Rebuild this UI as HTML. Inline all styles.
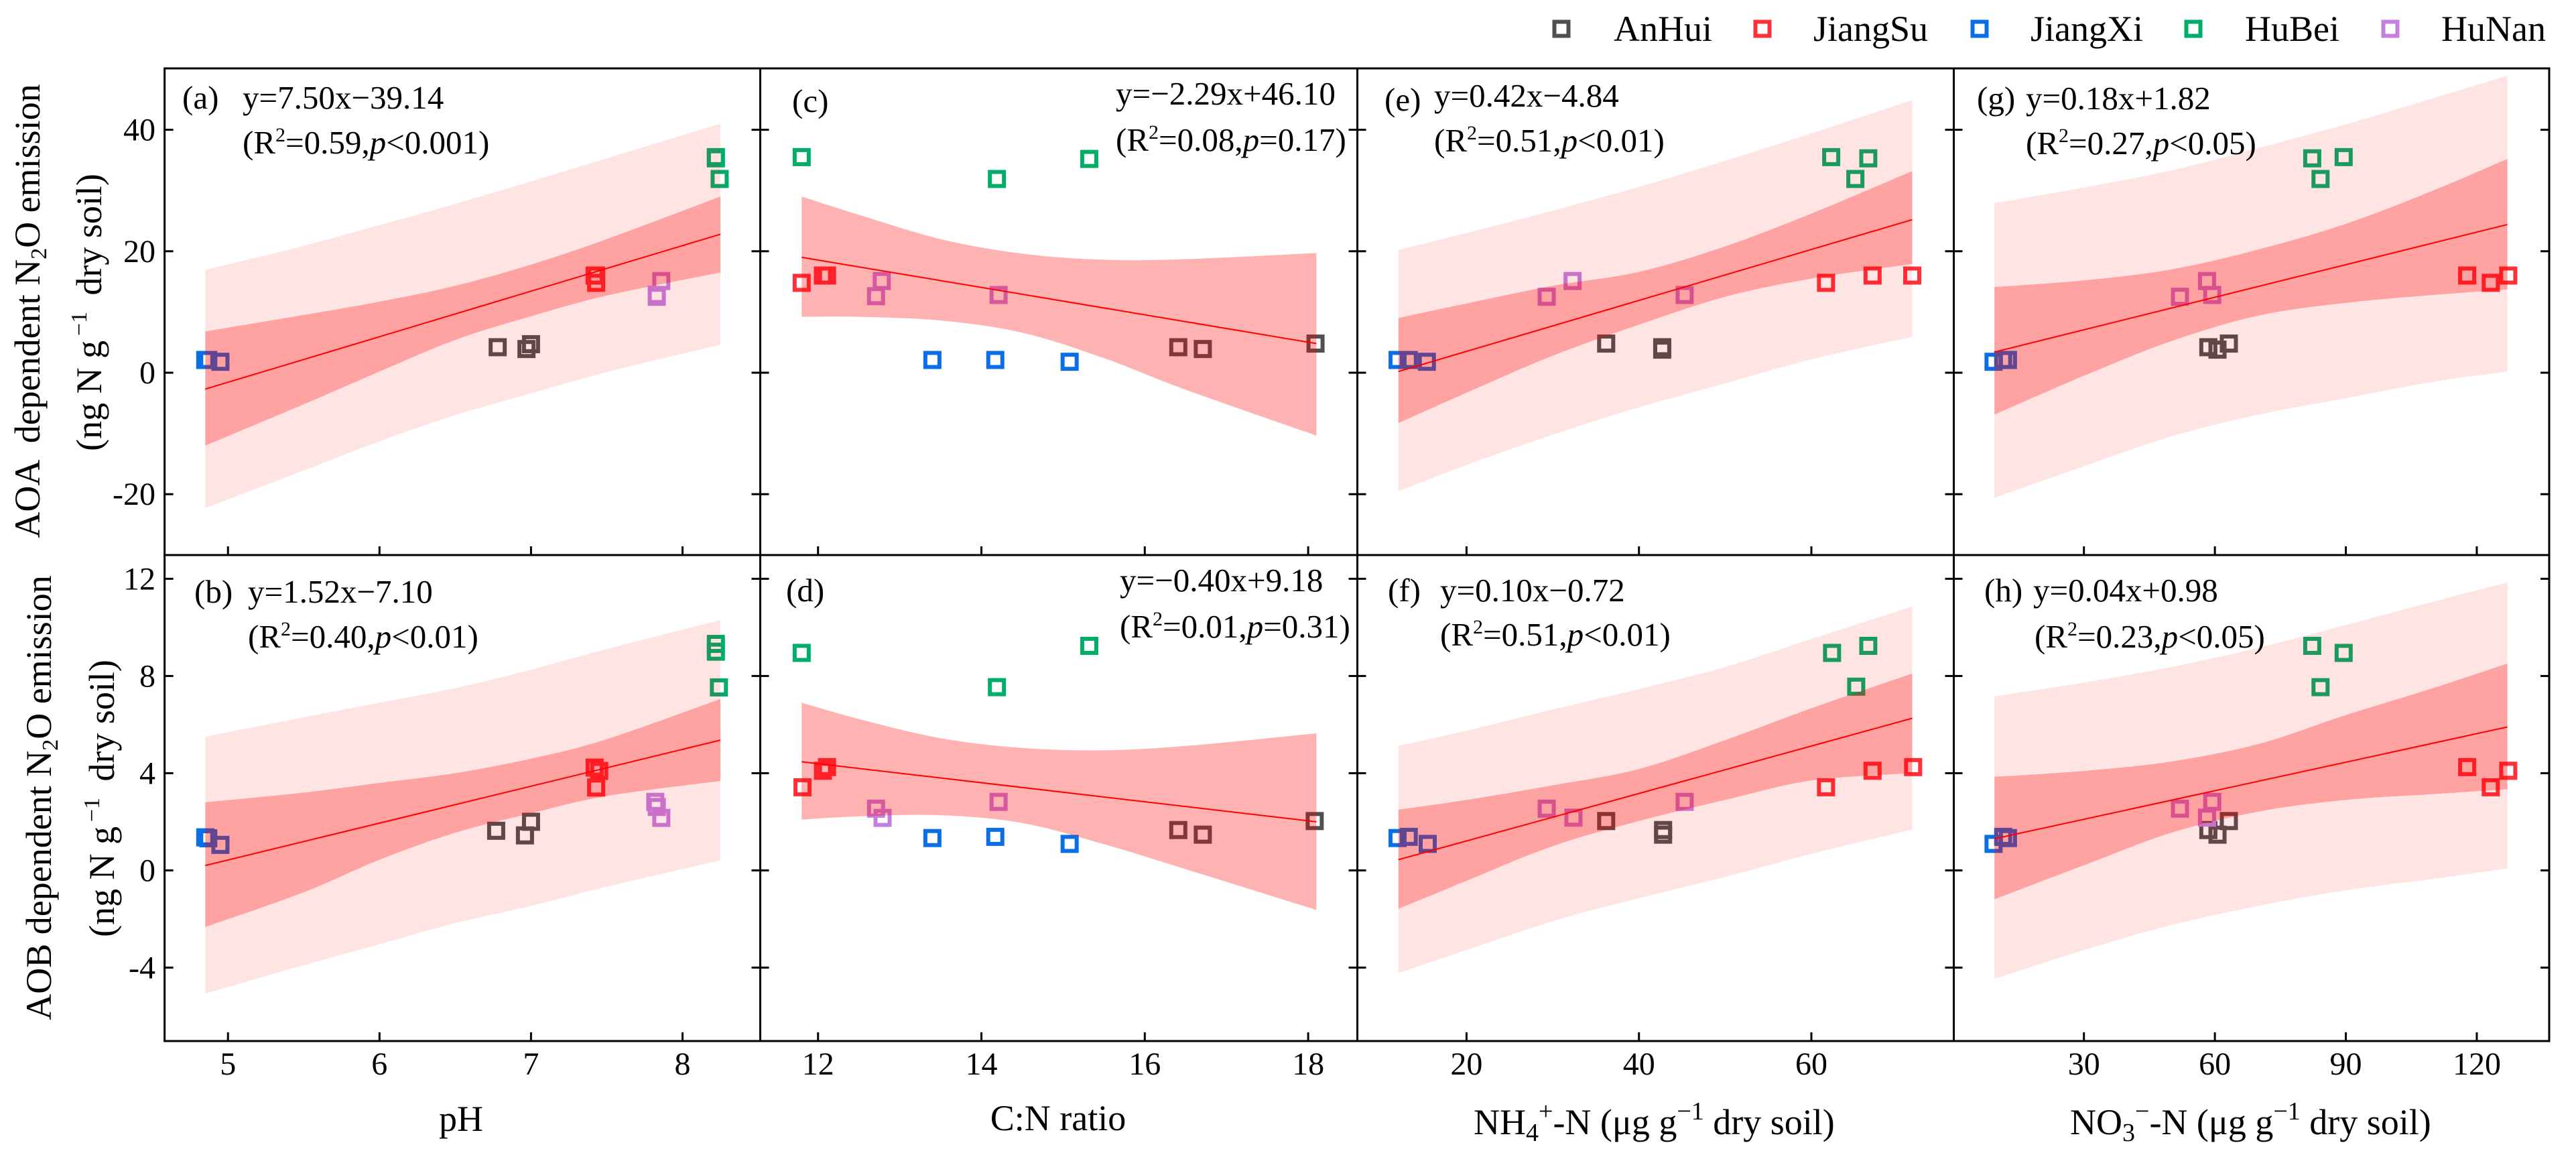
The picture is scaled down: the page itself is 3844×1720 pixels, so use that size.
<!DOCTYPE html>
<html lang="en">
<head>
<meta charset="utf-8">
<title>N2O emission regressions</title>
<style>
html,body{margin:0;padding:0;background:#fff;width:3844px;height:1720px;overflow:hidden}
svg{display:block}
text{font-family:"Liberation Serif",serif;fill:#000;white-space:pre}
.ann{font-size:49px}
.tick{font-size:48px}
.title{font-size:54px}
.leg{font-size:54px}
</style>
</head>
<body>
<svg id="chart" xmlns="http://www.w3.org/2000/svg" width="3844" height="1720" viewBox="0 0 3844 1720">
  <rect width="3844" height="1720" fill="#fff"/>
  <g id="plots"></g>

  <g>
    <rect x="2319.5" y="32.5" width="21" height="21" fill="none" stroke="#505050" stroke-width="6"/>
    <text class="leg" x="2408" y="61">AnHui</text>
    <rect x="2619.5" y="32.5" width="21" height="21" fill="none" stroke="#ff3038" stroke-width="6"/>
    <text class="leg" x="2706" y="61">JiangSu</text>
    <rect x="2943.5" y="32.5" width="21" height="21" fill="none" stroke="#0a6fe6" stroke-width="6"/>
    <text class="leg" x="3030" y="61">JiangXi</text>
    <rect x="3262.5" y="32.5" width="21" height="21" fill="none" stroke="#00ad68" stroke-width="6"/>
    <text class="leg" x="3350" y="61">HuBei</text>
    <rect x="3556.5" y="32.5" width="21" height="21" fill="none" stroke="#c47fe2" stroke-width="6"/>
    <text class="leg" x="3643" y="61">HuNan</text>
  </g>

  <text class="title" transform="translate(59,464) rotate(-90)" text-anchor="middle">AOA&#8201; dependent N<tspan font-size="34" dy="10">2</tspan><tspan dy="-10">O emission</tspan></text>
  <text class="title" transform="translate(151,466) rotate(-90)" text-anchor="middle">(ng N g<tspan font-size="34" dy="-22">&#8201;&#8722;1</tspan><tspan dy="22">&#8201; dry soil)</tspan></text>
  <text class="title" transform="translate(76,1190) rotate(-90)" text-anchor="middle">AOB dependent N<tspan font-size="34" dy="10">2</tspan><tspan dy="-10">O emission</tspan></text>
  <text class="title" transform="translate(170,1191) rotate(-90)" text-anchor="middle">(ng N g<tspan font-size="34" dy="-22">&#8201;&#8722;1</tspan><tspan dy="22">&#8201; dry soil)</tspan></text>

  <text class="title" x="688" y="1687" text-anchor="middle">pH</text>
  <text class="title" x="1579" y="1686" text-anchor="middle">C:N ratio</text>
  <text class="title" x="2199" y="1692">NH<tspan font-size="38" dy="10">4</tspan><tspan font-size="38" dy="-32">+</tspan><tspan dy="22">-N (&#956;g g</tspan><tspan font-size="38" dy="-22">&#8722;1</tspan><tspan dy="22"> dry soil)</tspan></text>
  <text class="title" x="3089" y="1692">NO<tspan font-size="38" dy="10">3</tspan><tspan font-size="38" dy="-32">&#8722;</tspan><tspan dy="22">-N (&#956;g g</tspan><tspan font-size="38" dy="-22">&#8722;1</tspan><tspan dy="22"> dry soil)</tspan></text>

  <g>
    <text class="ann" x="272" y="162">(a)</text>
    <text class="ann" x="362" y="162">y=7.50x&#8722;39.14</text>
    <text class="ann" x="362" y="229">(R<tspan font-size="30" dy="-18">2</tspan><tspan dy="18">=0.59,</tspan><tspan font-style="italic">p</tspan>&lt;0.001)</text>

    <text class="ann" x="1182" y="167">(c)</text>
    <text class="ann" x="1665" y="156">y=&#8722;2.29x+46.10</text>
    <text class="ann" x="1665" y="225">(R<tspan font-size="30" dy="-18">2</tspan><tspan dy="18">=0.08,</tspan><tspan font-style="italic">p</tspan>=0.17)</text>

    <text class="ann" x="2066" y="165">(e)</text>
    <text class="ann" x="2140" y="159">y=0.42x&#8722;4.84</text>
    <text class="ann" x="2140" y="226">(R<tspan font-size="30" dy="-18">2</tspan><tspan dy="18">=0.51,</tspan><tspan font-style="italic">p</tspan>&lt;0.01)</text>

    <text class="ann" x="2950" y="163">(g)</text>
    <text class="ann" x="3023" y="163">y=0.18x+1.82</text>
    <text class="ann" x="3023" y="230">(R<tspan font-size="30" dy="-18">2</tspan><tspan dy="18">=0.27,</tspan><tspan font-style="italic">p</tspan>&lt;0.05)</text>

    <text class="ann" x="290" y="899">(b)</text>
    <text class="ann" x="370" y="899">y=1.52x&#8722;7.10</text>
    <text class="ann" x="370" y="966">(R<tspan font-size="30" dy="-18">2</tspan><tspan dy="18">=0.40,</tspan><tspan font-style="italic">p</tspan>&lt;0.01)</text>

    <text class="ann" x="1173" y="897">(d)</text>
    <text class="ann" x="1671" y="882">y=&#8722;0.40x+9.18</text>
    <text class="ann" x="1671" y="951">(R<tspan font-size="30" dy="-18">2</tspan><tspan dy="18">=0.01,</tspan><tspan font-style="italic">p</tspan>=0.31)</text>

    <text class="ann" x="2071" y="897">(f)</text>
    <text class="ann" x="2149" y="897">y=0.10x&#8722;0.72</text>
    <text class="ann" x="2149" y="963">(R<tspan font-size="30" dy="-18">2</tspan><tspan dy="18">=0.51,</tspan><tspan font-style="italic">p</tspan>&lt;0.01)</text>

    <text class="ann" x="2961" y="897">(h)</text>
    <text class="ann" x="3034" y="897">y=0.04x+0.98</text>
    <text class="ann" x="3036" y="966">(R<tspan font-size="30" dy="-18">2</tspan><tspan dy="18">=0.23,</tspan><tspan font-style="italic">p</tspan>&lt;0.05)</text>
  </g>
</svg>

<script>
// Sample order in every point array: 3 AnHui, 3 JiangSu, 3 JiangXi, 3 HuBei, 3 HuNan
const sites = ['anhui','jiangsu','jiangxi','hubei','hunan'];

// Tick labels
const ticksPH = [5,6,7,8];
const ticksCN = [12,14,16,18];
const ticksNH4 = [20,40,60];
const ticksNO3 = [30,60,90,120];
const ticksAOA = [40,20,0,-20];
const ticksAOB = [12,8,4,0,-4];

// Band x samples
const bandPH = [4.85,5.5,6,6.5,7,7.5,8.25];
const bandCN = [11.8,12.5,13.5,14.5,15.5,16.5,18.1];
const bandNH4 = [12.1,20,30,40,50,60,71.7];
const bandNO3 = [9.5,30,50,70,90,110,127];

// Panel a (AOA vs pH)
const aX = [6.78,6.97,7.0, 7.43,7.43,7.42, 4.85,4.87,4.95, 8.22,8.245,8.22, 7.83,7.86,7.83];
const aY = [4.2,3.9,4.7, 14.8,16,16, 2.1,2.1,1.8, 35.5,31.9,35.3, 12.5,15.1,12.8];
const aLine = [-2.7,22.8];
const aPiUp = [16.9,20.9,24.3,27.8,31.5,35.3,41.0];
const aCiUp = [6.8,9.5,11.7,14.3,17.8,22.0,29.0];
const aCiLo = [-12.0,-5.2,0.2,5.4,9.3,12.7,16.5];
const aPiLo = [-22.3,-16.1,-11.3,-7.0,-3.4,0.1,4.6];

// Panel b (AOB vs pH)
const bX = [6.77,6.96,7.0, 7.42,7.45,7.43, 4.85,4.87,4.95, 8.22,8.22,8.24, 7.82,7.83,7.86];
const bY = [1.63,1.44,2.0, 4.23,4.09,3.41, 1.36,1.32,1.05, 9.32,9.0,7.53, 2.82,2.61,2.16];
const bLine = [0.2,5.36];
const bPiUp = [5.5,6.3,6.9,7.5,8.26,9.11,10.3];
const bCiUp = [2.8,3.2,3.6,4.0,4.6,5.4,7.05];
const bCiLo = [-2.33,-0.9,0.44,1.55,2.35,3.06,3.68];
const bPiLo = [-5.07,-3.9,-3.04,-2.17,-1.46,-0.67,0.41];

// Panel c (AOA vs C:N)
const cX = [16.41,16.71,18.09, 11.8,12.06,12.11, 13.4,14.17,15.08, 11.8,14.19,15.32, 12.71,12.78,14.21];
const cY = [4.2,3.9,4.8, 14.8,16,16, 2.1,2.1,1.8, 35.5,31.9,35.2, 12.6,15.1,12.8];
const cLine = [19.0,4.8];
const cCiUp = [29.0,26.0,22.0,19.6,18.6,18.7,19.7];
const cCiLo = [9.2,9.2,8.6,6.6,2.4,-2.8,-10.35];

// Panel d (AOB vs C:N)
const dX = [16.41,16.71,18.08, 11.81,12.06,12.11, 13.4,14.17,15.08, 11.8,14.19,15.32, 12.71,12.79,14.21];
const dY = [1.66,1.47,2.03, 3.42,4.1,4.25, 1.33,1.38,1.09, 8.95,7.54,9.24, 2.54,2.16,2.82];
const dLine = [4.47,2.0];
const dCiUp = [6.9,6.23,5.44,5.04,4.94,5.12,5.64];
const dCiLo = [2.09,2.22,2.27,1.95,1.08,0.05,-1.63];

// Panel e (AOA vs NH4)
const eX = [36.2,42.7,42.7, 61.7,67.1,71.7, 12.0,13.3,15.4, 62.3,65.1,66.6, 29.3,32.3,45.3];
const eY = [4.8,4.2,3.8, 14.8,16,16, 2.1,2.1,1.8, 35.5,31.9,35.3, 12.5,15.1,12.8];
const eLine = [0.2,25.2];
const ePiUp = [20.2,23.0,26.7,30.6,34.9,39.4,44.9];
const eCiUp = [9.0,11.4,14.3,16.6,20.8,26.2,33.2];
const eCiLo = [-8.3,-3.3,2.8,7.9,12.5,15.5,17.9];
const ePiLo = [-19.5,-15.2,-10.2,-5.7,-1.75,2.2,5.9];

// Panel f (AOB vs NH4)
const fX = [36.2,42.8,42.8, 61.7,67.1,71.8, 12.0,13.3,15.5, 62.4,65.2,66.6, 29.3,32.4,45.3];
const fY = [2.03,1.66,1.47, 3.42,4.1,4.25, 1.33,1.38,1.09, 8.95,7.56,9.24, 2.54,2.17,2.82];
const fLine = [0.44,6.26];
const fPiUp = [5.12,5.75,6.62,7.46,8.37,9.52,10.86];
const fCiUp = [2.5,2.9,3.5,4.17,5.36,6.67,8.1];
const fCiLo = [-1.58,-0.43,1.0,2.03,2.9,3.7,4.0];
const fPiLo = [-4.23,-3.28,-2.09,-1.14,-0.27,0.68,1.68];

// Panel g (AOA vs NO3)
const gX = [58.5,60.6,63.2, 117.8,123.2,127.2, 9.3,11.5,12.6, 82.3,89.5,84.2, 52,58.2,59.4];
const gY = [4.2,3.8,4.8, 16,14.8,16, 1.8,2.1,2.1, 35.3,35.5,31.9, 12.5,15.1,12.8];
const gLine = [3.4,24.4];
const gPiUp = [27.9,30.5,33.3,37.0,40.9,45.2,48.9];
const gCiUp = [14.1,15.2,17.0,20.3,24.5,30.0,35.2];
const gCiLo = [-6.9,-0.5,5.2,9.4,11.5,12.8,13.7];
const gPiLo = [-20.6,-15.4,-10.5,-6.9,-4.2,-1.5,0.2];

// Panel h (AOB vs NO3)
const hX = [58.5,60.6,63.2, 117.8,123.2,127.2, 9.3,11.5,12.6, 82.3,89.5,84.2, 52,58.2,59.4];
const hY = [1.66,1.47,2.03, 4.25,3.42,4.1, 1.09,1.38,1.33, 9.24,8.95,7.54, 2.54,2.17,2.82];
const hLine = [1.3,5.9];
const hPiUp = [7.16,7.73,8.37,9.16,10.1,11.06,11.85];
const hCiUp = [3.85,4.09,4.48,5.2,6.39,7.5,8.51];
const hCiLo = [-1.19,0.21,1.55,2.42,2.9,3.14,3.34];
const hPiLo = [-4.47,-3.28,-2.25,-1.46,-0.82,-0.35,0.08];

const NS = 'http://www.w3.org/2000/svg';
const siteColors = {anhui:'#505050',jiangsu:'#ff3038',jiangxi:'#0a6fe6',hubei:'#00ad68',hunan:'#c47fe2'};

const columns = [
  {left:245.6,right:1134.5,x:v=>340.2+226.1*(v-5),ticks:ticksPH,band:bandPH},
  {left:1134.5,right:2025.5,x:v=>1220.7+121.9*(v-12),ticks:ticksCN,band:bandCN},
  {left:2025.5,right:2915.5,x:v=>2188.4+12.865*(v-20),ticks:ticksNH4,band:bandNH4},
  {left:2915.5,right:3804,x:v=>3109.7+6.514*(v-30),ticks:ticksNO3,band:bandNO3}
];
const rows = [
  {top:102,bottom:828,y:v=>556-9.06*v,ticks:ticksAOA},
  {top:828,bottom:1553,y:v=>1298.4-36.25*v,ticks:ticksAOB}
];
const panels = [
  {id:'a',c:0,r:0,xs:aX,ys:aY,line:aLine,piUp:aPiUp,ciUp:aCiUp,ciLo:aCiLo,piLo:aPiLo},
  {id:'b',c:0,r:1,xs:bX,ys:bY,line:bLine,piUp:bPiUp,ciUp:bCiUp,ciLo:bCiLo,piLo:bPiLo},
  {id:'c',c:1,r:0,xs:cX,ys:cY,line:cLine,ciUp:cCiUp,ciLo:cCiLo},
  {id:'d',c:1,r:1,xs:dX,ys:dY,line:dLine,ciUp:dCiUp,ciLo:dCiLo},
  {id:'e',c:2,r:0,xs:eX,ys:eY,line:eLine,piUp:ePiUp,ciUp:eCiUp,ciLo:eCiLo,piLo:ePiLo},
  {id:'f',c:2,r:1,xs:fX,ys:fY,line:fLine,piUp:fPiUp,ciUp:fCiUp,ciLo:fCiLo,piLo:fPiLo},
  {id:'g',c:3,r:0,xs:gX,ys:gY,line:gLine,piUp:gPiUp,ciUp:gCiUp,ciLo:gCiLo,piLo:gPiLo},
  {id:'h',c:3,r:1,xs:hX,ys:hY,line:hLine,piUp:hPiUp,ciUp:hCiUp,ciLo:hCiLo,piLo:hPiLo}
];

function curve(pts){
  let d='';
  for(let i=0;i<pts.length-1;i++){
    const p0=pts[Math.max(i-1,0)],p1=pts[i],p2=pts[i+1],p3=pts[Math.min(i+2,pts.length-1)];
    d+=' C'+(p1[0]+(p2[0]-p0[0])/6).toFixed(1)+' '+(p1[1]+(p2[1]-p0[1])/6).toFixed(1)+' '
      +(p2[0]-(p3[0]-p1[0])/6).toFixed(1)+' '+(p2[1]-(p3[1]-p1[1])/6).toFixed(1)+' '
      +p2[0].toFixed(1)+' '+p2[1].toFixed(1);
  }
  return d;
}
function bandPath(bx,up,lo,sx,sy){
  const u=bx.map((v,i)=>[sx(v),sy(up[i])]);
  const l=bx.map((v,i)=>[sx(v),sy(lo[i])]).reverse();
  return 'M'+u[0][0].toFixed(1)+' '+u[0][1].toFixed(1)+curve(u)
    +' L'+l[0][0].toFixed(1)+' '+l[0][1].toFixed(1)+curve(l)+' Z';
}

const root = document.getElementById('plots');
panels.forEach(function(p){
  const col = columns[p.c], row = rows[p.r];
  const g = document.createElementNS(NS,'g');
  
  
  root.appendChild(g);

  // points (drawn first; translucent bands tint them)
  p.xs.forEach(function(v,i){
    const site = sites[Math.floor(i/3)];
    const r = document.createElementNS(NS,'rect');
    r.setAttribute('x', col.x(v)-10.5);
    r.setAttribute('y', row.y(p.ys[i])-10.5);
    r.setAttribute('width', 21);
    r.setAttribute('height', 21);
    r.setAttribute('fill', 'none');
    r.setAttribute('stroke', siteColors[site]);
    r.setAttribute('stroke-width', 6);
    
    
    g.appendChild(r);
  });

  // prediction band
  if(p.piUp){
    const pi = document.createElementNS(NS,'path');
    pi.setAttribute('d', bandPath(col.band,p.piUp,p.piLo,col.x,row.y));
    pi.setAttribute('fill', 'rgba(255,0,0,0.105)');
    
    
    g.appendChild(pi);
  }
  // confidence band
  const ci = document.createElementNS(NS,'path');
  ci.setAttribute('d', bandPath(col.band,p.ciUp,p.ciLo,col.x,row.y));
  ci.setAttribute('fill', p.piUp ? 'rgba(255,0,0,0.29)' : 'rgba(255,0,0,0.30)');
  
  
  g.appendChild(ci);

  // fit line
  const bx = col.band;
  const ln = document.createElementNS(NS,'line');
  ln.setAttribute('x1', col.x(bx[0]));
  ln.setAttribute('y1', row.y(p.line[0]));
  ln.setAttribute('x2', col.x(bx[bx.length-1]));
  ln.setAttribute('y2', row.y(p.line[1]));
  ln.setAttribute('stroke', '#ff0000');
  ln.setAttribute('stroke-width', 2);
  
  
  g.appendChild(ln);

  // frame
  const frame = document.createElementNS(NS,'rect');
  frame.setAttribute('x', col.left);
  frame.setAttribute('y', row.top);
  frame.setAttribute('width', col.right-col.left);
  frame.setAttribute('height', row.bottom-row.top);
  frame.setAttribute('fill', 'none');
  frame.setAttribute('stroke', '#000');
  frame.setAttribute('stroke-width', 3);
  
  
  g.appendChild(frame);

  // x ticks
  col.ticks.forEach(function(t){
    const m = document.createElementNS(NS,'line');
    m.setAttribute('x1', col.x(t));
    m.setAttribute('x2', col.x(t));
    m.setAttribute('y1', row.bottom);
    m.setAttribute('y2', row.bottom-13);
    m.setAttribute('stroke', '#000');
    m.setAttribute('stroke-width', 3);
    
    
    g.appendChild(m);
    if(p.r===1){
      const lbl = document.createElementNS(NS,'text');
      lbl.setAttribute('class', 'tick');
      lbl.setAttribute('x', col.x(t));
      lbl.setAttribute('y', 1603);
      lbl.setAttribute('text-anchor', 'middle');
      
      
      lbl.textContent = t;
      g.appendChild(lbl);
    }
  });

  // y ticks
  row.ticks.forEach(function(t){
    const yy = row.y(t);
    const m1 = document.createElementNS(NS,'line');
    m1.setAttribute('x1', col.left);
    m1.setAttribute('x2', col.left+13);
    m1.setAttribute('y1', yy);
    m1.setAttribute('y2', yy);
    m1.setAttribute('stroke', '#000');
    m1.setAttribute('stroke-width', 3);
    
    
    g.appendChild(m1);
    const m2 = document.createElementNS(NS,'line');
    m2.setAttribute('x1', col.right);
    m2.setAttribute('x2', col.right-13);
    m2.setAttribute('y1', yy);
    m2.setAttribute('y2', yy);
    m2.setAttribute('stroke', '#000');
    m2.setAttribute('stroke-width', 3);
    
    
    g.appendChild(m2);
    if(p.c===0){
      const lbl = document.createElementNS(NS,'text');
      lbl.setAttribute('class', 'tick');
      lbl.setAttribute('x', 232);
      lbl.setAttribute('y', yy+16);
      lbl.setAttribute('text-anchor', 'end');
      
      
      lbl.textContent = t;
      g.appendChild(lbl);
    }
  });
});
</script>
</body>
</html>
